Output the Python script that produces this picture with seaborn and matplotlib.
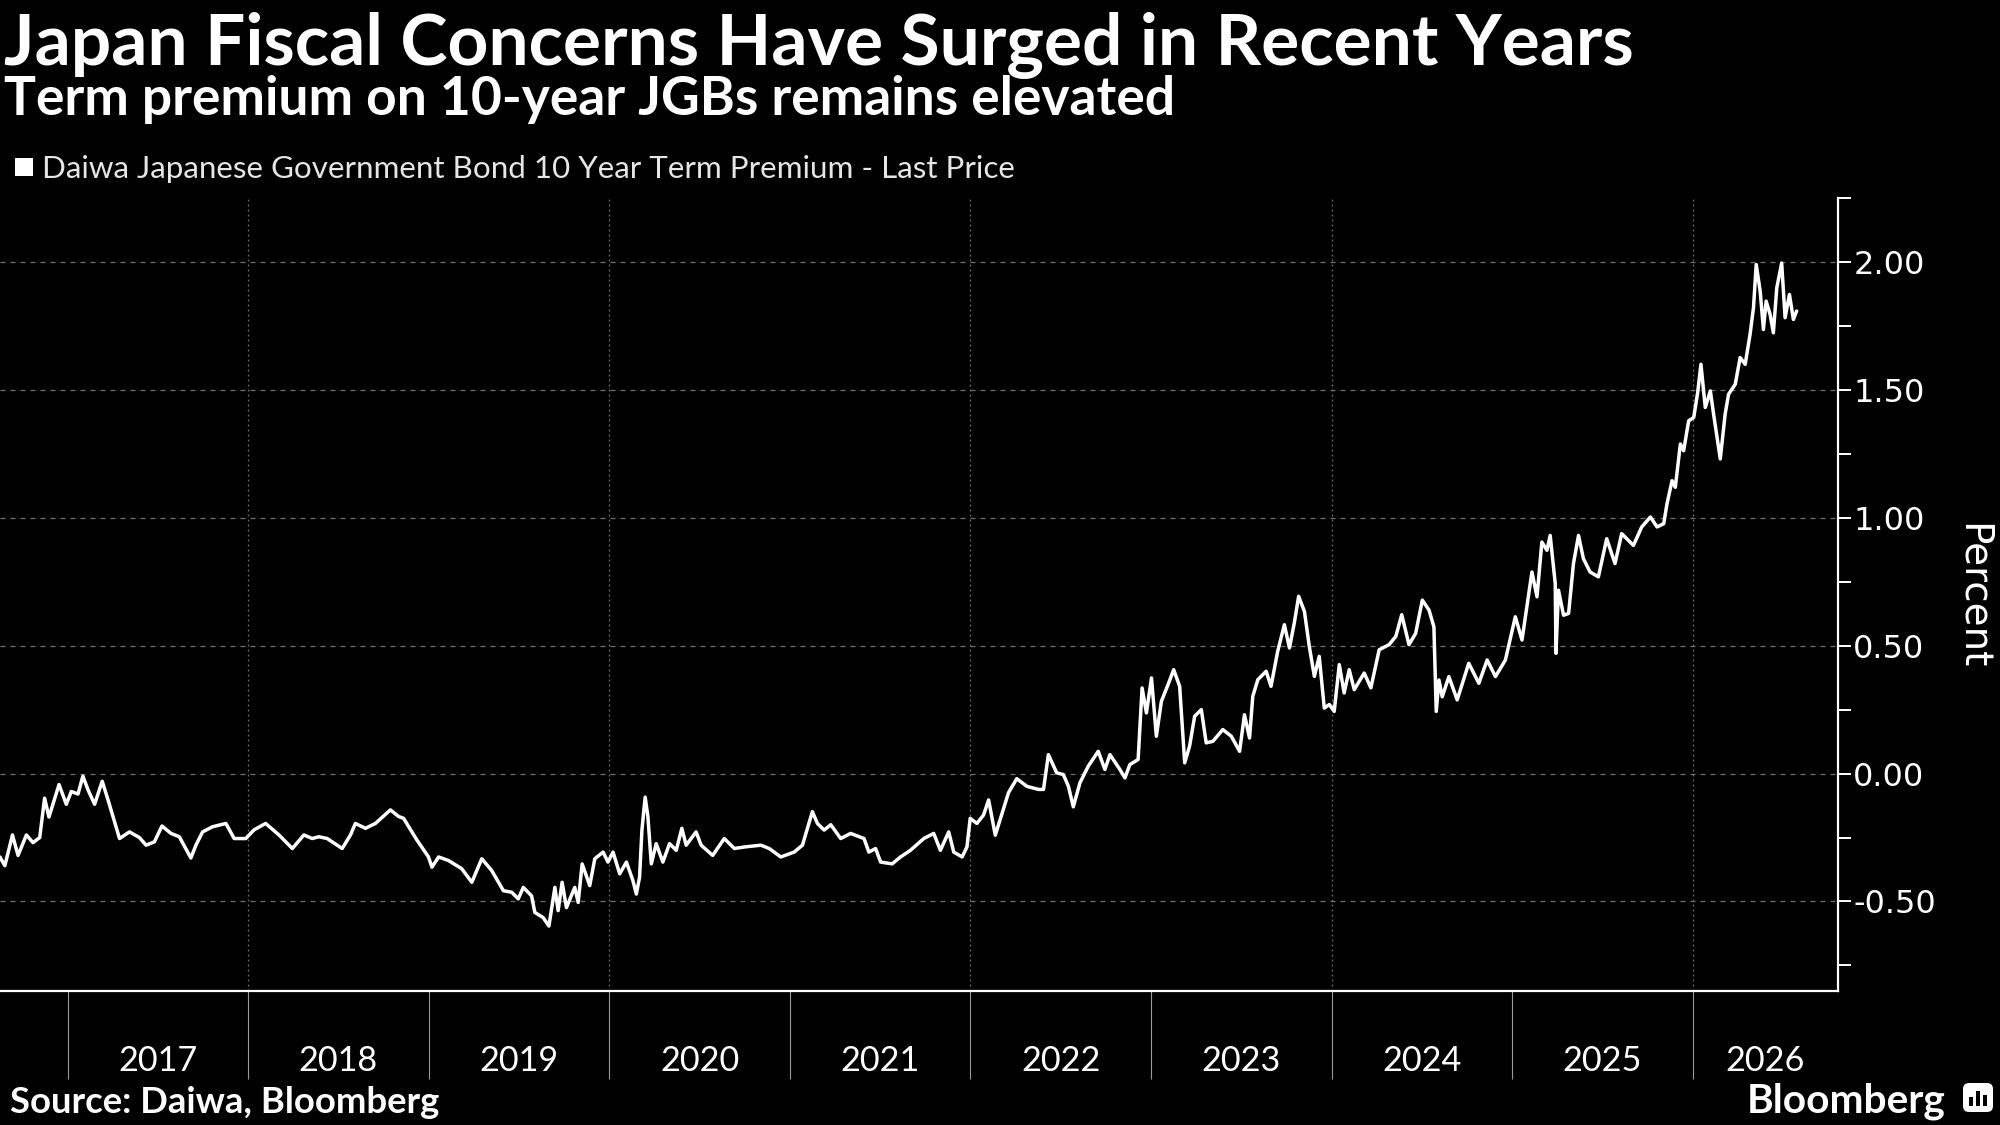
import numpy as np
import pandas as pd
import matplotlib
matplotlib.use("Agg")
import matplotlib.pyplot as plt
import seaborn as sns
from matplotlib import font_manager as fm
from matplotlib.patches import Rectangle, FancyBboxPatch
from matplotlib.transforms import IdentityTransform, blended_transform_factory

# ---------------- data (decimal year, percent) ----------------
date_year = [
    2016.625, 2016.653, 2016.695, 2016.726, 2016.772, 2016.809, 2016.846, 2016.873, 2016.897, 2016.953,
    2016.993, 2017.021, 2017.058, 2017.085, 2017.113, 2017.150, 2017.192, 2017.223, 2017.288, 2017.343,
    2017.398, 2017.435, 2017.481, 2017.523, 2017.573, 2017.619, 2017.683, 2017.711, 2017.748, 2017.803,
    2017.877, 2017.923, 2017.987, 2018.033, 2018.097, 2018.171, 2018.245, 2018.309, 2018.355, 2018.392,
    2018.438, 2018.521, 2018.567, 2018.594, 2018.650, 2018.705, 2018.788, 2018.834, 2018.861, 2018.935,
    2018.999, 2019.018, 2019.055, 2019.110, 2019.183, 2019.239,
    2019.294, 2019.349, 2019.414, 2019.460, 2019.496, 2019.524, 2019.570, 2019.588, 2019.634, 2019.666,
    2019.699, 2019.717, 2019.739, 2019.763, 2019.809, 2019.828, 2019.850, 2019.892, 2019.920, 2019.966,
    2019.993, 2020.021, 2020.058, 2020.095, 2020.131, 2020.150, 2020.168, 2020.181, 2020.199, 2020.214,
    2020.233, 2020.260, 2020.297, 2020.334, 2020.371, 2020.402, 2020.426, 2020.481, 2020.509, 2020.573,
    2020.637, 2020.693, 2020.748, 2020.840, 2020.886, 2020.950, 2021.024, 2021.070, 2021.125, 2021.153,
    2021.190, 2021.227, 2021.282, 2021.337, 2021.411, 2021.438, 2021.475, 2021.503, 2021.567, 2021.613,
    2021.668, 2021.742, 2021.797, 2021.834, 2021.880, 2021.908, 2021.954, 2021.981, 2021.999, 2022.036,
    2022.073, 2022.101, 2022.138,
    2022.211, 2022.257, 2022.313, 2022.377, 2022.405, 2022.432, 2022.478, 2022.515, 2022.543, 2022.570,
    2022.607, 2022.653, 2022.708, 2022.745, 2022.773, 2022.828, 2022.856, 2022.883, 2022.929, 2022.951,
    2022.975, 2023.003, 2023.030, 2023.058, 2023.095, 2023.126, 2023.159, 2023.187, 2023.214, 2023.242,
    2023.279, 2023.306, 2023.343, 2023.398, 2023.445, 2023.491, 2023.518, 2023.546, 2023.564, 2023.592,
    2023.638, 2023.665, 2023.702, 2023.739, 2023.767, 2023.794, 2023.818, 2023.850, 2023.877, 2023.905,
    2023.932, 2023.960, 2023.988, 2024.015, 2024.043, 2024.070, 2024.098, 2024.126, 2024.181, 2024.218,
    2024.264, 2024.319, 2024.356, 2024.389, 2024.429,
    2024.466, 2024.503, 2024.540, 2024.567, 2024.580, 2024.595, 2024.613, 2024.650, 2024.696, 2024.760,
    2024.816, 2024.862, 2024.908, 2024.963, 2025.018, 2025.055, 2025.110, 2025.138, 2025.165, 2025.193,
    2025.211, 2025.239, 2025.243, 2025.257, 2025.285, 2025.313, 2025.340, 2025.368, 2025.395, 2025.432,
    2025.478, 2025.524, 2025.570, 2025.607, 2025.672, 2025.718,
    2025.766, 2025.803, 2025.840, 2025.858, 2025.886, 2025.904, 2025.932, 2025.950, 2025.978,
    2026.006, 2026.028, 2026.046, 2026.070, 2026.098, 2026.116, 2026.153, 2026.180, 2026.199, 2026.236,
    2026.263, 2026.291, 2026.318, 2026.337, 2026.352, 2026.374, 2026.392, 2026.407, 2026.429, 2026.447,
    2026.466, 2026.493, 2026.512, 2026.536, 2026.558, 2026.576,
]

term_premium = [
    -0.326, -0.36, -0.24, -0.32, -0.24, -0.27, -0.25, -0.096, -0.17, -0.043,
    -0.12, -0.07, -0.08, -0.01, -0.063, -0.12, -0.03, -0.10, -0.254, -0.228,
    -0.25, -0.28, -0.267, -0.205, -0.234, -0.247, -0.33, -0.28, -0.228, -0.208,
    -0.195, -0.254, -0.254, -0.22, -0.195, -0.24, -0.293, -0.24, -0.254, -0.247,
    -0.254, -0.293, -0.24, -0.195, -0.214, -0.195, -0.142, -0.168, -0.175, -0.26,
    -0.326, -0.366, -0.326, -0.34, -0.372, -0.425,
    -0.333, -0.379, -0.458, -0.464, -0.49, -0.445, -0.478, -0.543, -0.563, -0.596,
    -0.445, -0.536, -0.425, -0.524, -0.445, -0.504, -0.353, -0.438, -0.333, -0.307,
    -0.346, -0.307, -0.392, -0.346, -0.418, -0.471, -0.405, -0.221, -0.092, -0.168,
    -0.353, -0.274, -0.346, -0.274, -0.30, -0.214, -0.28, -0.228, -0.28, -0.32,
    -0.254, -0.293, -0.287, -0.28, -0.293, -0.326, -0.307, -0.28, -0.149, -0.195,
    -0.221, -0.20, -0.254, -0.234, -0.254, -0.307, -0.293, -0.346, -0.353, -0.326,
    -0.30, -0.254, -0.234, -0.30, -0.228, -0.307, -0.326, -0.287, -0.175, -0.195,
    -0.162, -0.103, -0.241,
    -0.075, -0.02, -0.05, -0.062, -0.062, 0.074, 0.003, -0.004, -0.05, -0.13,
    -0.036, 0.029, 0.087, 0.016, 0.074, 0.016, -0.017, 0.035, 0.055, 0.335,
    0.237, 0.374, 0.146, 0.283, 0.348, 0.406, 0.341, 0.042, 0.107, 0.224,
    0.25, 0.12, 0.126, 0.172, 0.146, 0.087, 0.23, 0.139, 0.302, 0.367,
    0.40, 0.341, 0.478, 0.582, 0.491, 0.589, 0.693, 0.634, 0.497, 0.38,
    0.458, 0.256, 0.27, 0.243, 0.426, 0.315, 0.406, 0.328, 0.393, 0.335,
    0.484, 0.504, 0.536, 0.621, 0.504,
    0.548, 0.678, 0.639, 0.574, 0.243, 0.366, 0.30, 0.379, 0.288, 0.431,
    0.353, 0.444, 0.379, 0.444, 0.613, 0.522, 0.788, 0.691, 0.905, 0.873,
    0.931, 0.743, 0.47, 0.717, 0.619, 0.626, 0.821, 0.931, 0.84, 0.788,
    0.769, 0.918, 0.821, 0.938, 0.892, 0.964,
    1.003, 0.964, 0.977, 1.055, 1.145, 1.119, 1.288, 1.262, 1.379,
    1.392, 1.49, 1.60, 1.431, 1.496, 1.405, 1.23, 1.405, 1.483, 1.522,
    1.626, 1.60, 1.717, 1.821, 1.99, 1.886, 1.736, 1.847, 1.795, 1.723,
    1.899, 1.996, 1.782, 1.873, 1.775, 1.808,
]

year_labels = ["2017", "2018", "2019", "2020", "2021", "2022", "2023", "2024", "2025", "2026"]
y_major = [-0.5, 0.0, 0.5, 1.0, 1.5, 2.0]
y_minor = [-0.75, -0.25, 0.25, 0.75, 1.25, 1.75, 2.25]
grid_years = [2018, 2020, 2022, 2024, 2026]

title = "Japan Fiscal Concerns Have Surged in Recent Years"
subtitle = "Term premium on 10-year JGBs remains elevated"
series_name = "Daiwa Japanese Government Bond 10 Year Term Premium - Last Price"
source = "Source: Daiwa, Bloomberg"

# ---------------- style ----------------
sns.set_theme(style="dark")
plt.rcParams["font.family"] = ["DejaVu Sans"]

avail = {f.name for f in fm.fontManager.ttflist}
def pick(*names):
    for n in names:
        if n in avail:
            return n
    return "DejaVu Sans"

BOLD = pick("Lato", "Roboto", "Open Sans", "DejaVu Sans")
NARROW = pick("Liberation Sans Narrow", "Lato", "Roboto", "Liberation Sans")

W, H = 2000, 1125
fig = plt.figure(figsize=(W / 100, H / 100), dpi=100, facecolor="black")
ax_l, ax_r, ax_t, ax_b = 0, 1838, 198, 991
ax = fig.add_axes([ax_l / W, 1 - ax_b / H, (ax_r - ax_l) / W, (ax_b - ax_t) / H])
ax.set_facecolor("black")

df = pd.DataFrame({"date": date_year, "premium": term_premium})
sns.lineplot(data=df, x="date", y="premium", ax=ax, color="white", linewidth=2.5)
for ln in ax.get_lines():
    ln.set_solid_joinstyle("round")

xmin, xmax = 2016.626, 2026.805
ax.set_xlim(xmin, xmax)
ax.set_ylim(-0.85, 2.25)

# grid
ax.grid(False)
ax.set_yticks(y_major)
ax.set_yticks(y_minor, minor=True)
ax.set_yticklabels([f"{v:.2f}" for v in y_major])
for v in y_major:
    ax.axhline(v, color="#707070", lw=0.9, ls=(0, (4, 4)), zorder=0)
for yr in grid_years:
    ax.axvline(yr, color="#707070", lw=0.9, ls=(0, (1.5, 2.5)), zorder=0)

# spines
for s in ["top", "left"]:
    ax.spines[s].set_visible(False)
for s in ["bottom", "right"]:
    ax.spines[s].set_visible(True)
    ax.spines[s].set_color("white")
    ax.spines[s].set_linewidth(1.6)

ax.yaxis.tick_right()
ax.tick_params(axis="y", which="both", direction="out", length=9, width=1.4,
               colors="white", right=True, left=False, pad=2)
ax.tick_params(axis="y", which="major", labelsize=23, labelcolor="white")
for lab in ax.get_yticklabels():
    lab.set_fontfamily("DejaVu Sans")

# x ticks: year boundaries as long separators
boundaries = [int(y) for y in year_labels]
ax.set_xticks(boundaries)
ax.set_xticklabels([""] * len(boundaries))
ax.tick_params(axis="x", which="major", direction="out", length=63, width=0.8,
               color="#9a9a9a", bottom=True, top=False)
ax.set_xlabel("")

# year labels centred in visible part of each year
trans = blended_transform_factory(ax.transData, ax.transAxes)
lab_y = -(1071 - ax_b) / (ax_b - ax_t)
year_texts = []
for lab in year_labels:
    y0 = max(int(lab), xmin)
    y1 = min(int(lab) + 1, xmax)
    t = ax.text((y0 + y1) / 2, lab_y, lab, transform=trans, ha="center", va="baseline",
                color="white", fontsize=24, family=[NARROW, "DejaVu Sans"])
    year_texts.append(t)

# y label
ax.set_ylabel("Percent", rotation=270, color="white", fontsize=28, family="DejaVu Sans")
ax.yaxis.set_label_position("right")
ax.yaxis.set_label_coords((1973 - ax_l) / (ax_r - ax_l), (ax_b - 596) / (ax_b - ax_t))
ax.yaxis.label.set_ha("center")
ax.yaxis.label.set_va("center")

# titles
t_title = fig.text(4 / W, 1 - 65 / H, title, color="white", fontsize=44, weight="bold",
                   family=[BOLD, "DejaVu Sans"], ha="left", va="baseline")
t_sub = fig.text(4 / W, 1 - 115 / H, subtitle, color="white", fontsize=30, weight="bold",
                 family=[BOLD, "DejaVu Sans"], ha="left", va="baseline")

# legend
fig.patches.append(Rectangle((15 / W, 1 - 176 / H), 18 / W, 18 / H, transform=fig.transFigure,
                             facecolor="white", edgecolor="none"))
t_leg = fig.text(42 / W, 1 - 178 / H, series_name, color="#e6e6e6", fontsize=22,
                 family=[NARROW, "DejaVu Sans"], ha="left", va="baseline")

# source
t_src = fig.text(10 / W, 1 - 1113 / H, source, color="white", fontsize=22, weight="bold",
                 family=[BOLD, "DejaVu Sans"], ha="left", va="baseline")

# Bloomberg mark
t_bb = fig.text(1946 / W, 1 - 1113 / H, "Bloomberg", color="white", fontsize=26, weight="bold",
                family=[BOLD, "DejaVu Sans"], ha="right", va="baseline")
fig.patches.append(FancyBboxPatch((1963, 13), 30, 29, boxstyle="round,pad=0,rounding_size=6",
                                  transform=IdentityTransform(), facecolor="white", edgecolor="none"))
for bx, bh in [(1969, 9), (1976, 15), (1983, 11)]:
    fig.patches.append(Rectangle((bx, 19), 4, bh, transform=IdentityTransform(),
                                 facecolor="black", edgecolor="none"))

# fit text widths to reference
fig.canvas.draw()
r = fig.canvas.get_renderer()
def fit_width(t, target):
    for _ in range(2):
        w = t.get_window_extent(r).width
        t.set_fontsize(t.get_fontsize() * target / w)

fit_width(t_title, 1631)
fit_width(t_sub, 1171)
fit_width(t_leg, 972)
fit_width(t_src, 429)
fit_width(t_bb, 199)
fit_width(year_texts[0], 79)
for t in year_texts[1:]:
    t.set_fontsize(year_texts[0].get_fontsize())

fig.savefig("out.png", dpi=100, facecolor="black")
